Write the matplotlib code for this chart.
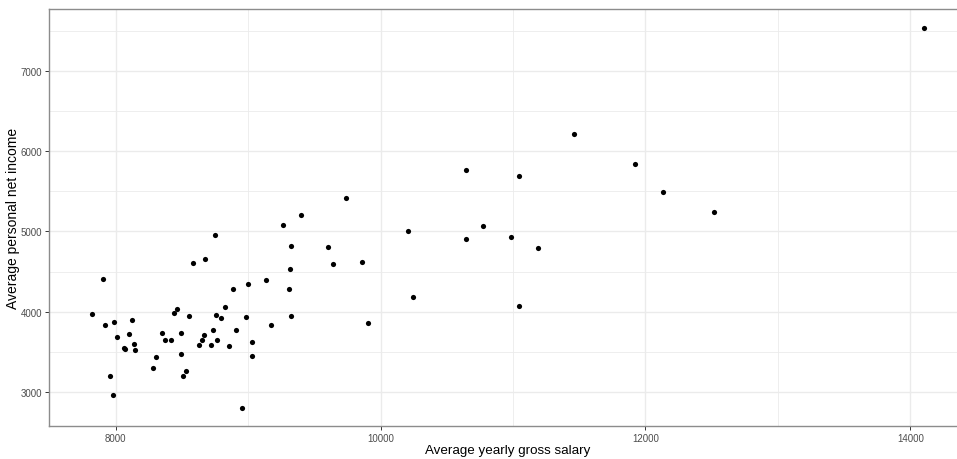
import matplotlib
matplotlib.use("Agg")
import matplotlib.pyplot as plt
from matplotlib.ticker import MultipleLocator

# average yearly gross salary vs average personal net income
salary = [7819, 7904, 7922, 7990, 8008, 7960, 7977, 8065, 8068, 8101,
          8126, 8138, 8149, 8285, 8304, 8350, 8372, 8418, 8440, 8460,
          8496, 8491, 8533, 8508, 8551, 8581, 8674, 8629, 8649, 8667,
          8722, 8734, 8755, 8765, 8797, 8823, 8855, 8883, 8911, 8981,
          8998, 8956, 9738, 9398, 9263, 8747, 9323, 9600, 9318, 9640,
          9857, 9137, 9306, 9321, 9172, 9904, 9032, 9032, 10642, 11042,
          10209, 10772, 10647, 10986, 11190, 10244, 11049, 14106, 11457, 11919,
          12136, 12521]
net_income = [3971, 4406, 3839, 3872, 3681, 3201, 2965, 3550, 3535, 3727,
              3897, 3599, 3528, 3304, 3437, 3735, 3652, 3652, 3983, 4029,
              3735, 3478, 3255, 3193, 3942, 4609, 4655, 3586, 3652, 3706,
              3586, 3768, 3963, 3652, 3921, 4062, 3578, 4286, 3776, 3930,
              4344, 2795, 5416, 5201, 5077, 4953, 4816, 4807, 4534, 4592,
              4621, 4389, 4277, 3947, 3835, 3863, 3627, 3453, 5763, 5693,
              5000, 5071, 4902, 4927, 4790, 4183, 4071, 7529, 6215, 5842,
              5488, 5243]

plt.rcParams['font.family'] = ['Liberation Sans', 'DejaVu Sans']

fig = plt.figure(figsize=(9.57, 4.6), dpi=100)
# panel runs past the right edge like in the original
ax = fig.add_axes([49 / 957, 33 / 460, 917 / 957, 417 / 460])

ax.scatter(salary, net_income, s=14, color='black', linewidths=0, zorder=3)

ax.set_xlim(7497, 14420)
ax.set_ylim(2576, 7770)
ax.xaxis.set_major_locator(MultipleLocator(2000))
ax.xaxis.set_minor_locator(MultipleLocator(1000))
ax.yaxis.set_major_locator(MultipleLocator(1000))
ax.yaxis.set_minor_locator(MultipleLocator(500))

ax.grid(True, which='major', color='#ebebeb', linewidth=1.0, zorder=0)
ax.grid(True, which='minor', color='#ebebeb', linewidth=0.6, zorder=0)
ax.set_axisbelow(True)

for sp in ax.spines.values():
    sp.set_color('#8c8c8c')
    sp.set_linewidth(1.0)

ax.tick_params(which='major', length=3, width=0.7, color='#333333',
               labelsize=7, labelcolor='#4d4d4d', pad=2)
ax.tick_params(which='minor', length=0)

ax.set_xlabel('Average yearly gross salary', fontsize=9.6)
ax.set_ylabel('Average personal net income', fontsize=10)
ax.xaxis.set_label_coords(0.5, -18.5 / 417, transform=ax.transAxes)
ax.yaxis.set_label_coords(-29 / 917, 0.5, transform=ax.transAxes)

fig.savefig('out.png', dpi=100)
